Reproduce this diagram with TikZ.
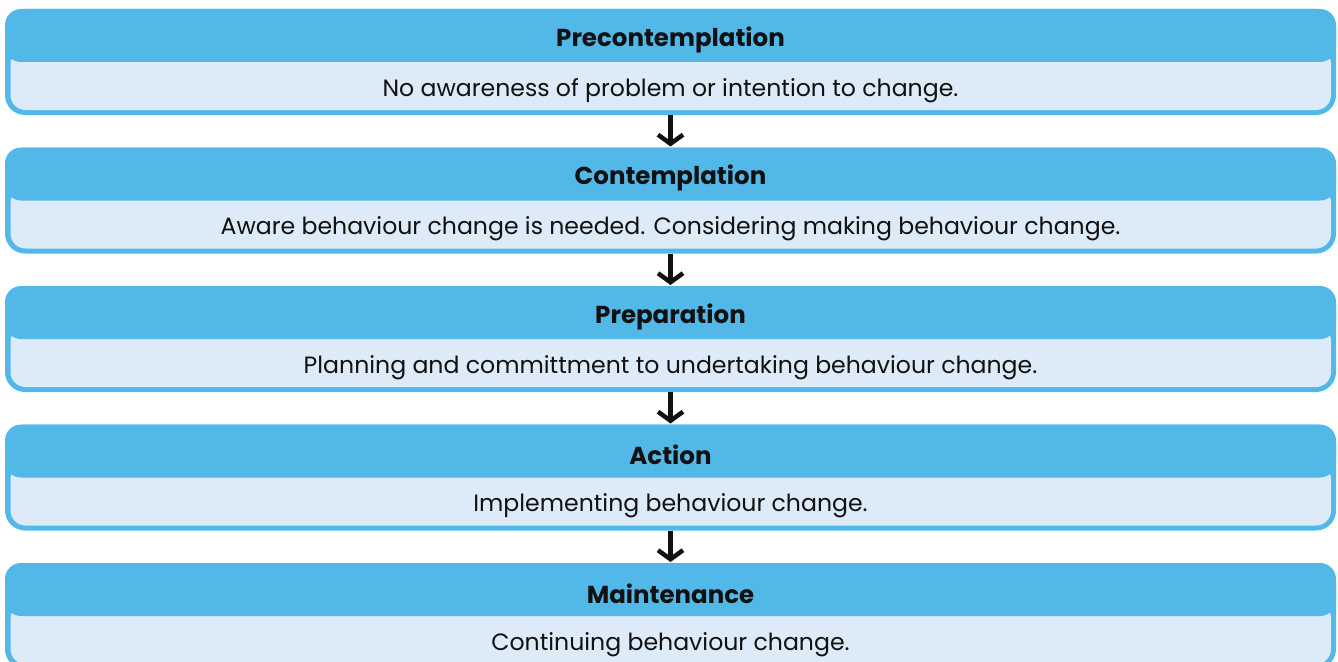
\documentclass[tikz,border=0pt]{standalone}
\usepackage{fontspec}
\setmainfont{Poppins}
\usetikzlibrary{arrows.meta}
\definecolor{headblue}{HTML}{52B8E8}
\definecolor{bodyblue}{HTML}{DDEBF8}
\definecolor{ink}{HTML}{111111}
\begin{document}
\begin{tikzpicture}[x=1pt,y=-1pt,
    head/.style={font=\fontsize{24.5}{28}\selectfont\bfseries, text=ink},
    body/.style={font=\fontsize{23.6}{28}\selectfont, text=ink},
    flow/.style={draw=ink,line width=4.5pt,-{Straight Barb[length=9pt,width=25pt]}}]
  \clip (0,0) rectangle (1338,661);
  \def \Stages{
    1/Precontemplation/No awareness of problem or intention to change.,
    2/Contemplation/Aware behaviour change is needed. Considering making behaviour change.,
    3/Preparation/Planning and committment to undertaking behaviour change.,
    4/Action/Implementing behaviour change.,
    5/Maintenance/Continuing behaviour change.}
  \foreach \id / \name / \desc in \Stages{
    \pgfmathsetmacro\ytop{9+138.5*(\id-1)}
    \fill[headblue,rounded corners=20pt] (5,\ytop) rectangle (1336,\ytop+106);
    \fill[bodyblue,rounded corners=15pt] (10.5,\ytop+40) rectangle (1331,\ytop+101);
    \fill[headblue,rounded corners=16pt] (5,\ytop) rectangle (1336,\ytop+53);
    \node[head] (h\id) at (670.5,\ytop+30.5) {\name};
    \node[body] (b\id) at (670.5,\ytop+81.5) {\desc};
    \coordinate (top\id) at (670.5,\ytop);
    \coordinate (bot\id) at (670.5,\ytop+106);
  }
  \foreach \x / \y in {1/2,2/3,3/4,4/5}{
    \draw[flow] (bot\x) -- ([yshift=1pt]top\y);
  }
\end{tikzpicture}
\end{document}
